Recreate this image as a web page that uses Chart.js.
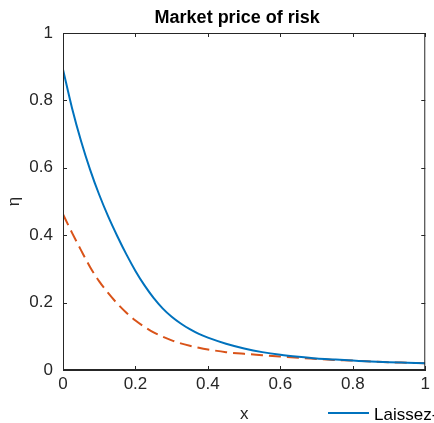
<!DOCTYPE html>
<html>
<head>
<meta charset="utf-8">
<script src="https://cdn.jsdelivr.net/npm/chart.js@4/dist/chart.umd.min.js"></script>
<style>
html,body{margin:0;padding:0;background:#fff;overflow:hidden;}
#wrap{width:434px;height:423px;}
</style>
</head>
<body>
<div id="wrap"><canvas id="c" width="434" height="423"></canvas></div>
<script>
const xValues = [0,0.025,0.05,0.075,0.1,0.125,0.15,0.175,0.2,0.225,0.25,0.275,0.3,0.325,0.35,0.375,0.4,0.45,0.5,0.55,0.6,0.65,0.7,0.75,0.8,0.85,0.9,0.95,1.0];
const laissezFaire = [0.892,0.777,0.679,0.594,0.520,0.455,0.397,0.343,0.294,0.251,0.214,0.183,0.158,0.138,0.121,0.107,0.096,0.078,0.064,0.053,0.045,0.039,0.034,0.031,0.028,0.025,0.023,0.0215,0.020];
const secondSeries = [0.462,0.407,0.355,0.305,0.263,0.228,0.197,0.170,0.147,0.128,0.112,0.099,0.088,0.079,0.072,0.066,0.061,0.053,0.048,0.044,0.040,0.036,0.033,0.030,0.028,0.025,0.023,0.0215,0.020];
const xTicks = [0,0.2,0.4,0.6,0.8,1];
const yTicks = [0,0.2,0.4,0.6,0.8,1];
const titleText = 'Market price of risk';
const xLabel = 'x';
const yLabel = 'η';
const legendLabel = 'Laissez-faire';

const FONT = "'Liberation Sans', Arial, Helvetica, sans-serif";
const AX = '#262626';
const BLUE = '#0072BD';
const RED = '#D95319';

function pts(ys){ return xValues.map((x,i)=>({x:x,y:ys[i]})); }

const boxPlugin = {
  id:'box',
  afterDraw(chart){
    const ctx = chart.ctx, a = chart.chartArea;
    const xs = chart.scales.x, ys = chart.scales.y;
    ctx.save();
    ctx.strokeStyle = AX; ctx.lineWidth = 1;
    ctx.beginPath();
    ctx.moveTo(a.left, a.top+0.5); ctx.lineTo(a.right, a.top+0.5);
    ctx.moveTo(a.right-0.5, a.top); ctx.lineTo(a.right-0.5, a.bottom);
    ctx.moveTo(a.left, a.bottom-0.5); ctx.lineTo(a.right, a.bottom-0.5);
    ctx.moveTo(a.left+0.5, a.top); ctx.lineTo(a.left+0.5, a.bottom);
    const tl = 4;
    xTicks.forEach(v=>{
      const px = Math.round(xs.getPixelForValue(v))+0.5;
      ctx.moveTo(px, a.bottom); ctx.lineTo(px, a.bottom-tl);
      ctx.moveTo(px, a.top); ctx.lineTo(px, a.top+tl);
    });
    yTicks.forEach(v=>{
      const py = Math.round(ys.getPixelForValue(v))+0.5;
      ctx.moveTo(a.left, py); ctx.lineTo(a.left+tl, py);
      ctx.moveTo(a.right, py); ctx.lineTo(a.right-tl, py);
    });
    ctx.stroke();
    // title, centred over the axes
    ctx.fillStyle = '#000'; ctx.font = 'bold 18px ' + FONT;
    ctx.textAlign = 'center'; ctx.textBaseline = 'alphabetic';
    ctx.fillText(titleText, (a.left + a.right)/2 - 7, 23);
    // legend (partially outside the canvas)
    ctx.strokeStyle = BLUE; ctx.lineWidth = 2; ctx.setLineDash([]);
    ctx.beginPath(); ctx.moveTo(328, 413); ctx.lineTo(369, 413); ctx.stroke();
    ctx.fillStyle = '#000'; ctx.font = '17px ' + FONT;
    ctx.textBaseline = 'alphabetic'; ctx.textAlign = 'left';
    ctx.fillText(legendLabel, 374, 420);
    ctx.restore();
  }
};

new Chart(document.getElementById('c'), {
  type:'line',
  data:{
    datasets:[
      {label:legendLabel, data:pts(laissezFaire), borderColor:BLUE, borderWidth:2, pointRadius:0, cubicInterpolationMode:'monotone', fill:false},
      {label:'second', data:pts(secondSeries), borderColor:RED, borderWidth:2, borderDash:[12,6], pointRadius:0, cubicInterpolationMode:'monotone', fill:false}
    ]
  },
  options:{
    responsive:false, animation:false, devicePixelRatio:1,
    layout:{padding:{left:0,right:3,top:33,bottom:0}},
    plugins:{
      legend:{display:false}, tooltip:{enabled:false}, title:{display:false}
    },
    scales:{
      x:{type:'linear', min:0, max:1,
        afterBuildTicks(s){ s.ticks = xTicks.map(v=>({value:v})); },
        afterFit(s){ s.height = 53; },
        grid:{display:false, drawTicks:false},
        border:{display:true, color:AX},
        ticks:{color:AX, font:{family:FONT, size:17}, padding:4, maxRotation:0, callback:v=>String(v)},
        title:{display:true, text:xLabel, color:AX, font:{family:FONT, size:17}, padding:{top:0,bottom:-2}}
      },
      y:{type:'linear', min:0, max:1,
        afterBuildTicks(s){ s.ticks = yTicks.map(v=>({value:v})); },
        afterFit(s){ s.width = 63; },
        grid:{display:false, drawTicks:false},
        border:{display:true, color:AX},
        ticks:{color:AX, font:{family:FONT, size:17}, padding:10, callback:v=>String(v)},
        title:{display:true, text:yLabel, color:AX, font:{family:FONT, size:17}, padding:{top:4,bottom:0}}
      }
    }
  },
  plugins:[boxPlugin]
});
</script>
</body>
</html>
